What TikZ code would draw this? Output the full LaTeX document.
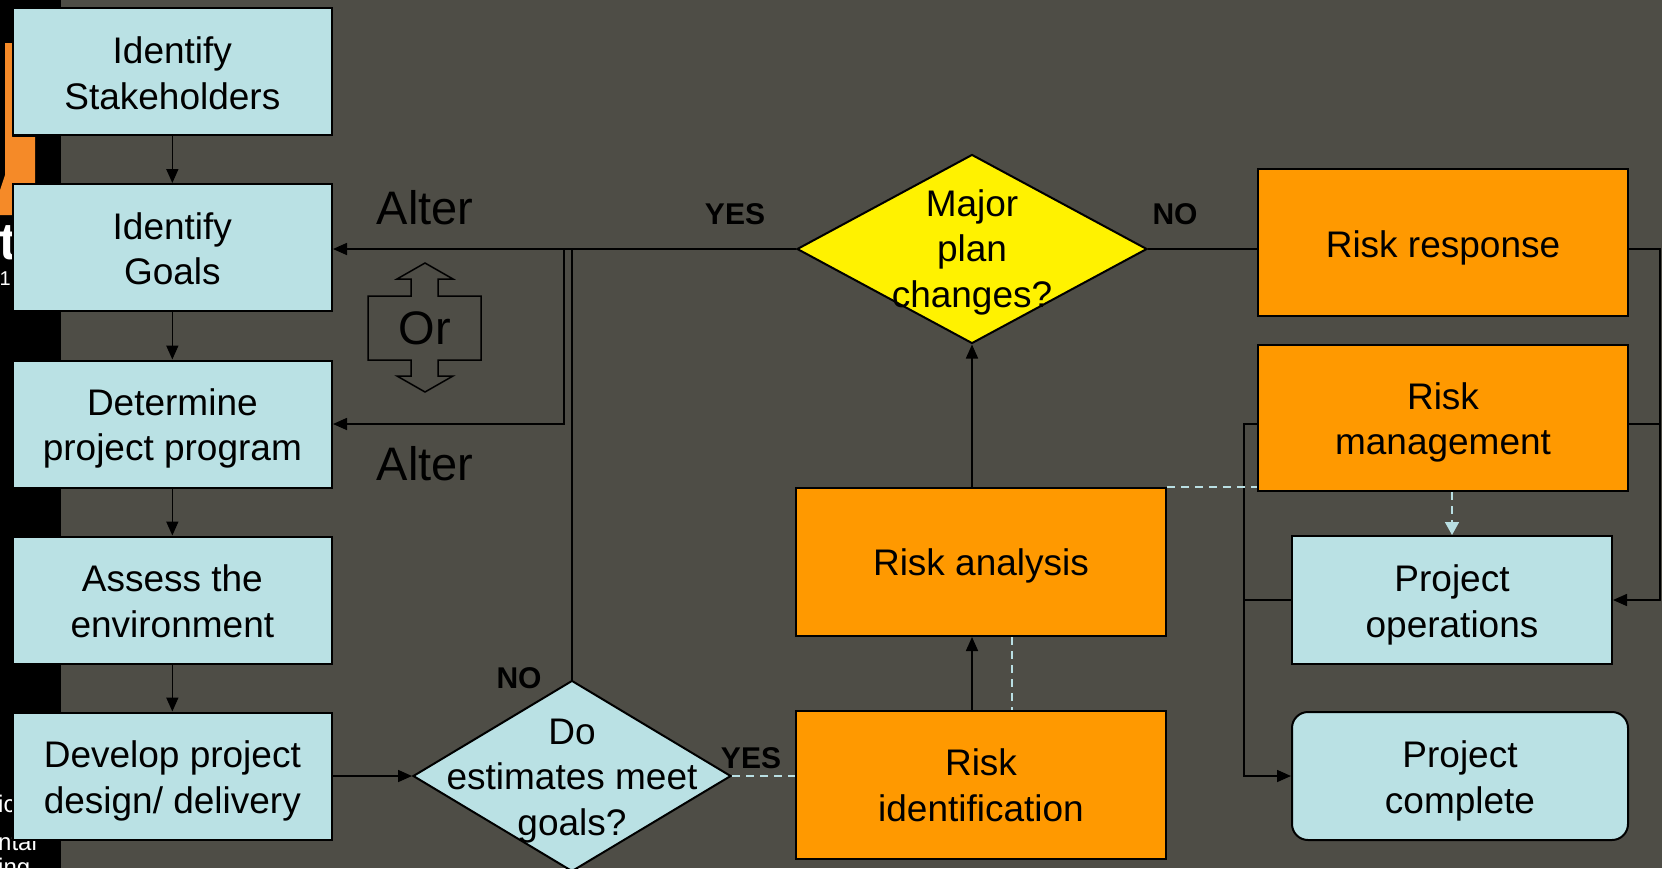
\documentclass[tikz,border=0pt]{standalone}
\usepackage{fontspec}
\setmainfont{Liberation Sans}
\usetikzlibrary{arrows.meta,shapes.geometric}

\definecolor{bgc}{RGB}{78,77,70}
\definecolor{paleblue}{RGB}{186,225,228}
\definecolor{riskorange}{RGB}{255,153,0}
\definecolor{logoorange}{RGB}{245,138,40}
\definecolor{dashblue}{RGB}{185,223,227}

\tikzset{
  boxtext/.style={font=\fontsize{37}{45.6}\selectfont, align=center, text=black, inner sep=0pt},
  stepbox/.style={draw=black, line width=2pt, fill=paleblue, inner sep=0pt},
  riskbox/.style={draw=black, line width=2pt, fill=riskorange, inner sep=0pt},
  decision/.style={diamond, draw=black, line width=2pt, inner sep=0pt},
  conn/.style={draw=black, line width=1.6pt},
  arr/.style={conn, -{Triangle[length=14pt,width=12pt]}},
  softdash/.style={draw=dashblue, line width=1.6pt, dash pattern=on 8pt off 6pt},
  answer/.style={font=\fontsize{30}{30}\selectfont\bfseries, text=black, inner sep=0pt},
  bigword/.style={font=\fontsize{47}{47}\selectfont, text=black, inner sep=0pt},
  scrap/.style={text=white, inner sep=0pt},
}

\begin{document}
\begin{tikzpicture}[x=1pt,y=-1pt]
  % canvas
  \fill[bgc] (0,0) rectangle (1662,868);
  \useasboundingbox (0,0) rectangle (1662,868);

  % dark strip on the left edge with the orange mark and cut-off lettering
  \fill[black] (0,0) rectangle (61,868);
  \fill[logoorange] (5,43) -- (12,43) -- (12,137) -- (35,137) -- (35,183)
    -- (12,183) -- (12,215) -- (0,215) -- (0,190) -- (5,175) -- cycle;
  \node[scrap, anchor=base east, font=\fontsize{52}{52}\selectfont\bfseries] (frt) at (17,259) {t};
  \node[scrap, anchor=base east, font=\fontsize{20}{20}\selectfont] (frone) at (11,285) {1};
  \node[scrap, anchor=base west, font=\fontsize{24}{24}\selectfont] (fric) at (-2,812) {ic};
  \node[scrap, anchor=base west, font=\fontsize{24}{24}\selectfont] (frntal) at (-2,850) {ntal};
  \node[scrap, anchor=base west, font=\fontsize{24}{24}\selectfont] (fring) at (-2,875) {ing};

  % planning steps
  \node[stepbox, minimum width=319.3pt, minimum height=127pt] (b1) at (172.35,71.5) {};
  \node[stepbox, minimum width=319.3pt, minimum height=127pt] (b2) at (172.35,247.5) {};
  \node[stepbox, minimum width=319.3pt, minimum height=127pt] (b3) at (172.35,424) {};
  \node[stepbox, minimum width=319.3pt, minimum height=127pt] (b4) at (172.35,600) {};
  \node[stepbox, minimum width=319.3pt, minimum height=127pt] (b5) at (172.35,776) {};
  \node[boxtext] (b1t) at ([yshift=-1.6pt]b1.center) {Identify\\Stakeholders};
  \node[boxtext] (b2t) at ([yshift=-1.1pt]b2.center) {Identify\\Goals};
  \node[boxtext] (b3t) at ([yshift=-4.3pt]b3.center) {Determine\\project program};
  \node[boxtext] (b4t) at ([yshift=-1.1pt]b4.center) {Assess the\\environment};
  \node[boxtext] (b5t) at ([yshift=-4.8pt]b5.center) {Develop project\\design/ delivery};

  % decisions
  \node[decision, fill=paleblue, minimum width=318pt, minimum height=191pt] (dg) at (572,776) {};
  \node[boxtext] (dgt) at ([yshift=-4.8pt]dg.center) {Do\\estimates meet\\goals?};
  \node[decision, fill=yellow, minimum width=350pt, minimum height=189pt] (mpc) at (972,249) {};
  \node[boxtext] (mpct) at ([yshift=-3.2pt]mpc.center) {Major\\plan\\changes?};

  % risk process
  \node[riskbox, minimum width=370pt, minimum height=148pt] (ri) at (981,785) {};
  \node[riskbox, minimum width=370pt, minimum height=148pt] (ra) at (981,562) {};
  \node[riskbox, minimum width=370pt, minimum height=147.5pt] (rr) at (1443,242.25) {};
  \node[riskbox, minimum width=370pt, minimum height=146.5pt] (rm) at (1443,417.75) {};
  \node[stepbox, minimum width=320pt, minimum height=128pt] (po) at (1452,600) {};
  \node[stepbox, rounded corners=16pt, minimum width=336pt, minimum height=128pt] (pc) at (1460,776) {};
  \node[boxtext] (rit) at (ri.center) {Risk\\identification};
  \node[boxtext] (rat) at ([yshift=-4.3pt]ra.center) {Risk analysis};
  \node[boxtext] (rrt) at ([yshift=-5.3pt]rr.center) {Risk response};
  \node[boxtext] (rmt) at ([yshift=-4.8pt]rm.center) {Risk\\management};
  \node[boxtext] (pot) at ([yshift=-4.8pt]po.center) {Project\\operations};
  \node[boxtext] (pct) at ([yshift=-4.8pt]pc.center) {Project\\complete};

  % left column flow
  \draw[arr] (b1) -- (b2);
  \draw[arr] (b2) -- (b3);
  \draw[arr] (b3) -- (b4);
  \draw[arr] (b4) -- (b5);
  \draw[arr] (b5.east) -- (dg.west);

  % estimates check
  \draw[softdash] (dg.east) -- (dg.east -| ri.west);
  \draw[conn] (dg.north) -- (dg.north |- mpc.west);

  % risk loop
  \draw[arr] (mpc.south |- ri.north) -- (mpc.south |- ra.south);
  \draw[softdash] (1012,0 |- ra.south) -- (1012,0 |- ri.north);
  \draw[arr] (mpc.south |- ra.north) -- (mpc.south);

  % alter paths back to the goals and program steps
  \coordinate (split) at (564,249);
  \draw[arr] (mpc.west) -- (mpc.west -| b2.east);
  \draw[arr] (split) -- (split |- b3.east) -- (b3.east);

  % no major changes
  \draw[conn] (mpc.east) -- (mpc.east -| rr.west);
  \coordinate (railr) at (1660,249);
  \draw[arr] (rr.east |- railr) -- (railr) -- (railr |- po.east) -- (po.east);
  \draw[conn] (1628,424) -- (1660,424);
  \coordinate (raill) at (1244,424);
  \draw[arr] (1258,424) -- (raill) -- (raill |- pc.west) -- (pc.west);
  \draw[conn] (po.west) -- (raill |- po.west);

  % dashed links between risk steps
  \draw[softdash] (ra.north east) -- (ra.north east -| rm.west);
  \draw[softdash, -{Triangle[length=13pt,width=14pt]}, dashblue] (po.north |- rm.south) -- (po.north);

  % answers
  \node[answer] (yes1) at (735,214) {YES};
  \node[answer] (no1) at (1175,214) {NO};
  \node[answer] (yes2) at (751,758) {YES};
  \node[answer] (no2) at (519,678) {NO};

  % alter / or annotation
  \node[bigword] (alter1) at (425,208) {Alter};
  \node[bigword] (alter2) at (425,464) {Alter};
  \draw[black, line width=1.5pt, line join=miter]
    (425,263) -- (453,279) -- (438,279) -- (438,296) -- (481,296) -- (481,360)
    -- (438,360) -- (438,376) -- (453,376) -- (425,392) -- (397,376) -- (411,376)
    -- (411,360) -- (368,360) -- (368,296) -- (411,296) -- (411,279) -- (397,279) -- cycle;
  \node[bigword] (orword) at (425,328) {Or};
\end{tikzpicture}
\end{document}
